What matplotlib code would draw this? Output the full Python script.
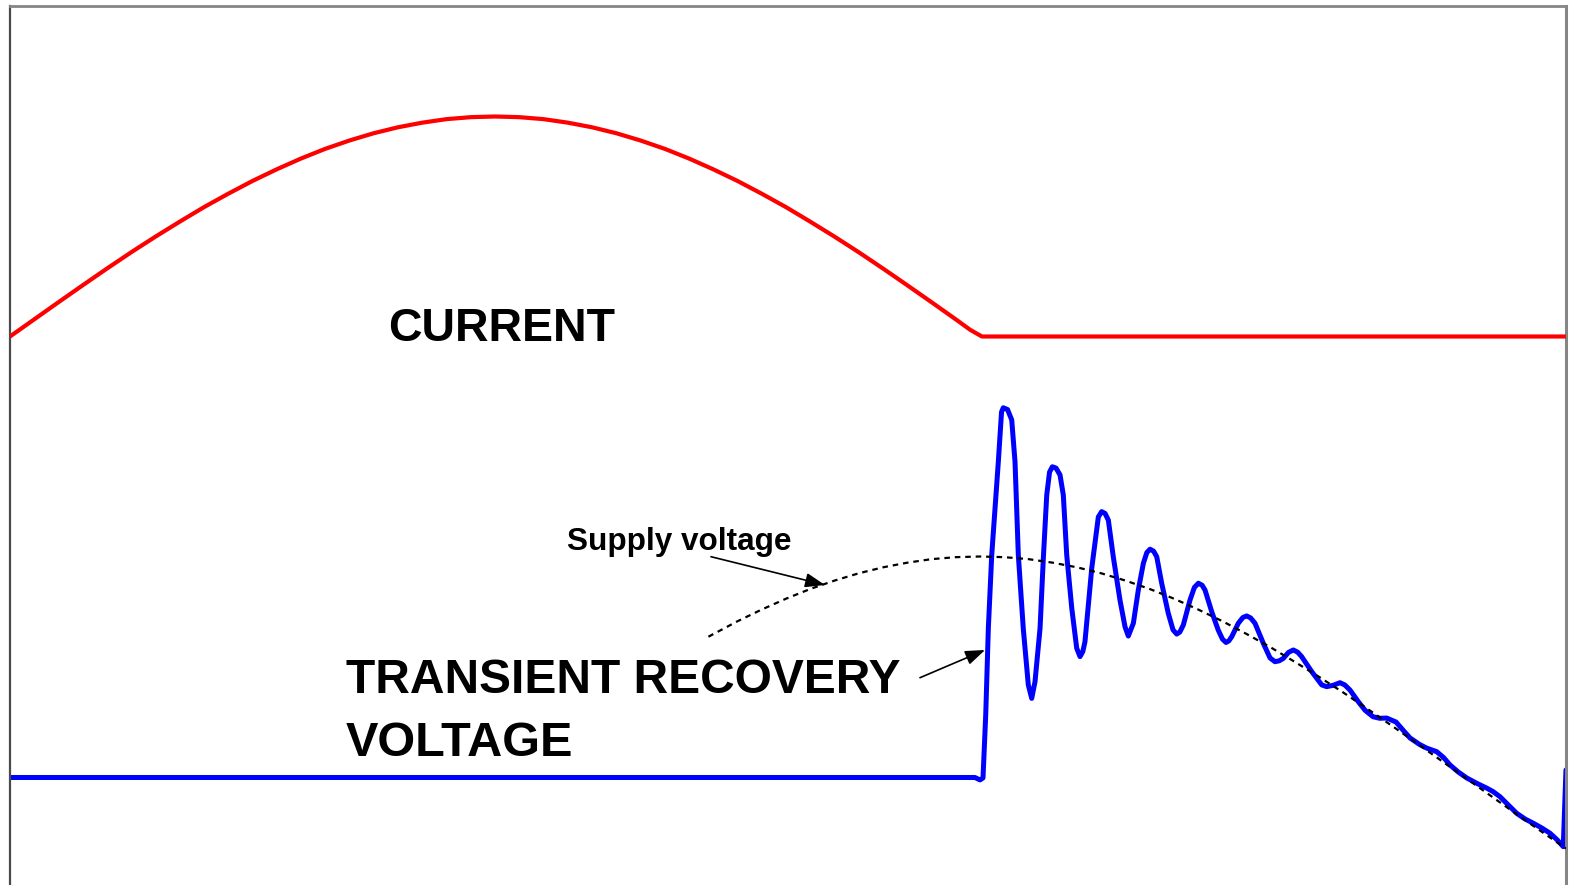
import matplotlib
matplotlib.use("Agg")
import matplotlib.pyplot as plt

# ---------------- data (time in ms, values in per-unit) ----------------
current_t = [0.0, 0.25, 0.5, 0.75, 1.0, 1.25, 1.5, 1.75, 2.0, 2.25, 2.5, 2.75,
             3.0, 3.25, 3.5, 3.75, 4.0, 4.25, 4.5, 4.75, 5.0, 5.25, 5.5, 5.75,
             6.0, 6.25, 6.5, 6.75, 7.0, 7.25, 7.5, 7.75, 8.0, 8.25, 8.5, 8.75,
             9.0, 9.25, 9.5, 9.75, 9.9, 10.02, 16.04]
current_i = [0.0, 0.078, 0.156, 0.233, 0.309, 0.383, 0.454, 0.522, 0.588, 0.649,
             0.707, 0.760, 0.809, 0.853, 0.891, 0.924, 0.951, 0.972, 0.988, 0.997,
             1.000, 0.997, 0.988, 0.972, 0.951, 0.924, 0.891, 0.853, 0.809, 0.760,
             0.707, 0.649, 0.588, 0.522, 0.454, 0.383, 0.309, 0.233, 0.156, 0.078,
             0.030, 0.0, 0.0]

supply_t = [7.2, 7.5, 7.75, 8.0, 8.25, 8.5, 8.75, 9.0, 9.25, 9.5, 9.75, 10.0,
            10.25, 10.5, 10.75, 11.0, 11.25, 11.5, 11.75, 12.0, 12.25, 12.5,
            12.75, 13.0, 13.25, 13.5, 13.75, 14.0, 14.25, 14.5, 14.75, 15.0,
            15.25, 15.5, 15.75, 16.0, 16.04]
supply_v = [0.637, 0.707, 0.760, 0.809, 0.853, 0.891, 0.924, 0.951, 0.972, 0.988,
            0.997, 1.000, 0.997, 0.988, 0.972, 0.951, 0.924, 0.891, 0.853, 0.809,
            0.760, 0.707, 0.649, 0.588, 0.522, 0.454, 0.383, 0.309, 0.233, 0.156,
            0.078, 0.0, -0.078, -0.156, -0.233, -0.309, -0.321]

# transient recovery voltage: (time ms, voltage pu)
trv_points = [
    (0.0, 0.0), (9.948, 0.0), (10.0, -0.011), (10.031, -0.002),
    (10.059, 0.283), (10.086, 0.676), (10.121, 1.007), (10.189, 1.429),
    (10.222, 1.654), (10.240, 1.673), (10.284, 1.665), (10.327, 1.618),
    (10.361, 1.429), (10.395, 1.007), (10.446, 0.675), (10.498, 0.419),
    (10.533, 0.358), (10.567, 0.433), (10.619, 0.675), (10.653, 0.992),
    (10.688, 1.278), (10.717, 1.382), (10.746, 1.406), (10.784, 1.400),
    (10.825, 1.369), (10.859, 1.278), (10.894, 1.007), (10.946, 0.766),
    (10.997, 0.585), (11.031, 0.547), (11.060, 0.570), (11.082, 0.614),
    (11.152, 0.947), (11.220, 1.179), (11.254, 1.203), (11.289, 1.195),
    (11.323, 1.165), (11.374, 0.999), (11.443, 0.803), (11.495, 0.682),
    (11.529, 0.640), (11.581, 0.698), (11.632, 0.848), (11.684, 0.969),
    (11.720, 1.018), (11.753, 1.033), (11.790, 1.024), (11.822, 0.999),
    (11.873, 0.879), (11.941, 0.743), (11.990, 0.668), (12.028, 0.649),
    (12.060, 0.658), (12.096, 0.690), (12.165, 0.803), (12.210, 0.860),
    (12.251, 0.879), (12.290, 0.870), (12.320, 0.848), (12.389, 0.750),
    (12.456, 0.667), (12.500, 0.626), (12.536, 0.611), (12.565, 0.618),
    (12.595, 0.637), (12.663, 0.698), (12.710, 0.724), (12.749, 0.731),
    (12.790, 0.722), (12.835, 0.698), (12.921, 0.607), (12.990, 0.541),
    (13.041, 0.524), (13.085, 0.528), (13.127, 0.539), (13.180, 0.566),
    (13.230, 0.577), (13.275, 0.567), (13.316, 0.547), (13.420, 0.479),
    (13.523, 0.419), (13.574, 0.411), (13.640, 0.417), (13.711, 0.429),
    (13.760, 0.419), (13.814, 0.396), (13.900, 0.343), (13.970, 0.304),
    (14.052, 0.275), (14.120, 0.268), (14.193, 0.269), (14.289, 0.251),
    (14.370, 0.210), (14.433, 0.179), (14.530, 0.150), (14.605, 0.133),
    (14.708, 0.117), (14.780, 0.090), (14.845, 0.057), (14.930, 0.025),
    (15.018, -0.002), (15.120, -0.026), (15.224, -0.048), (15.290, -0.064),
    (15.361, -0.087), (15.450, -0.126), (15.533, -0.162), (15.620, -0.188),
    (15.704, -0.207), (15.790, -0.228), (15.876, -0.252), (15.950, -0.282),
    (16.013, -0.313), (16.041, 0.034),
]
trv_t = [p[0] for p in trv_points]
trv_v = [p[1] for p in trv_points]

labels = {"current": "CURRENT", "trv1": "TRANSIENT RECOVERY",
          "trv2": "VOLTAGE", "supply": "Supply voltage"}

# ---------------- figure ----------------
W, H = 1569, 885
fig = plt.figure(figsize=(W / 100, H / 100), dpi=100)
fig.patch.set_facecolor("white")

rect = [10 / W, 0, 1556 / W, (H - 6) / H]
ax = fig.add_axes(rect)               # voltage axes (and frame)
ax_i = fig.add_axes(rect, sharex=ax)  # current axes
ax_i.set_facecolor("none")
ax_i.axis("off")

t_max = 1556 / 97.0
ax.set_xlim(0, t_max)
ax.set_ylim(-(H - 777.5) / 221.0, (777.5 - 6) / 221.0)
ax_i.set_ylim(-(H - 336.5) / 220.0, (336.5 - 6) / 220.0)

ax.set_xticks([])
ax.set_yticks([])
ax.spines["bottom"].set_visible(False)
ax.spines["left"].set_color("#4a4a4a")
ax.spines["left"].set_linewidth(1.6)
ax.spines["top"].set_color("#858585")
ax.spines["top"].set_linewidth(2.0)
ax.spines["right"].set_color("#858585")
ax.spines["right"].set_linewidth(2.2)

# curves
ax_i.plot(current_t, current_i, color="#ff0000", lw=3.0, solid_capstyle="butt",
          solid_joinstyle="round")
ax.plot(trv_t, trv_v, color="#0000ff", lw=3.6, solid_joinstyle="round",
        solid_capstyle="round", zorder=2)
ax.plot(supply_t, supply_v, color="black", lw=1.6, linestyle=(0, (2.5, 2.2)),
        zorder=3)

# texts
font = "Liberation Sans"
def ftext(px, py, s, size):
    fig.text(px / W, 1 - py / H, s, fontsize=size, fontweight="bold",
             family=font, ha="left", va="baseline", color="black")

ftext(388, 341, labels["current"], 33.5)
ftext(346, 693, labels["trv1"], 34.5)
ftext(346, 756, labels["trv2"], 35)
ftext(567, 550, labels["supply"], 22.7)

arrow_kw = dict(arrowstyle="-|>,head_length=0.6,head_width=0.22",
                mutation_scale=20, color="black", lw=1.2,
                shrinkA=0, shrinkB=0)
ax.annotate("", xy=(8.402, 0.871), xycoords="data",
            xytext=(711, H - 556.7), textcoords="figure pixels",
            arrowprops=arrow_kw)
ax.annotate("", xy=(10.052, 0.577), xycoords="data",
            xytext=(920, H - 677.7), textcoords="figure pixels",
            arrowprops=arrow_kw)

fig.savefig("out.png", dpi=100)
